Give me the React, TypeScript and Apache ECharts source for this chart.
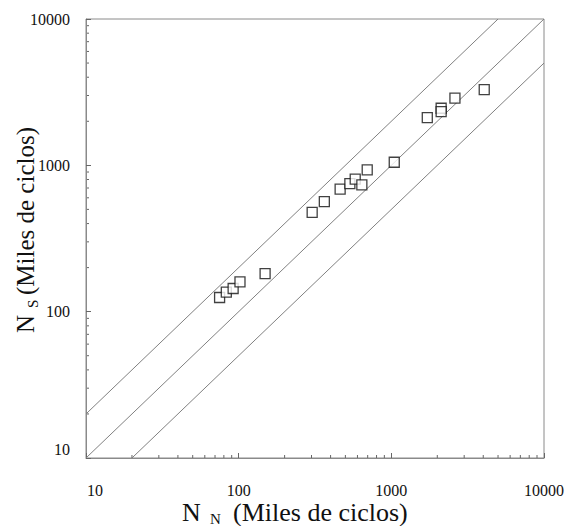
import React, { useEffect, useRef } from "react";
import * as echarts from "echarts";

// N_N (thousands of cycles) and N_S (thousands of cycles) for each specimen
const N_N = [75, 83, 92, 102, 149, 303, 364, 462, 535, 580, 641, 695, 1045, 1720, 2120, 2120, 2610, 4060];
const N_S = [125, 136, 144, 160, 182, 477, 565, 687, 750, 804, 735, 931, 1050, 2120, 2455, 2330, 2880, 3290];

// reference lines: N_S = 2 N_N, N_S = N_N, N_S = N_N / 2
const UPPER_LINE = [[10, 20], [5000, 10000]];
const EQUAL_LINE = [[10, 10], [10000, 10000]];
const LOWER_LINE = [[20, 10], [10000, 5000]];

const AXIS_MIN = 10;
const AXIS_MAX = 10000;
const DECADES = [10, 100, 1000];
const MINOR_STEPS = [2, 3, 4, 5, 6, 7, 8, 9];

const FONT = "Liberation Serif";

export default function App() {
  const ref = useRef<HTMLDivElement>(null);

  useEffect(() => {
    if (!ref.current) return;
    const chart = echarts.init(ref.current, null, { renderer: "svg" });
    const lineStyle = { color: "#808080", width: 1 };
    const labelStyle = { fontFamily: FONT, fontSize: 16, color: "#111" };
    const option: any = {
      animation: false,
      backgroundColor: "#fff",
      grid: {
        left: 86,
        top: 19,
        width: 458,
        height: 439,
        show: true,
        borderColor: "#8a8a8a",
        borderWidth: 1,
        backgroundColor: "transparent",
      },
      xAxis: {
        type: "log",
        logBase: 10,
        min: AXIS_MIN,
        max: AXIS_MAX,
        axisLine: { show: true, lineStyle: { color: "#8a8a8a", width: 1 } },
        axisTick: { show: true, inside: true, length: 5, lineStyle: { color: "#666" } },
        splitLine: { show: false },
        axisLabel: {
          margin: 24,
          fontFamily: FONT,
          fontSize: 16,
          formatter: (v: number) => {
            const r = Math.round(v);
            return r === AXIS_MIN ? "{lo|" + r + "}" : "{n|" + r + "}";
          },
          rich: {
            n: { ...labelStyle },
            lo: { ...labelStyle, padding: [0, 0, 0, 18] },
          },
        },
      },
      yAxis: {
        type: "log",
        logBase: 10,
        min: AXIS_MIN,
        max: AXIS_MAX,
        axisLine: { show: true, lineStyle: { color: "#8a8a8a", width: 1 } },
        axisTick: { show: true, inside: true, length: 5, lineStyle: { color: "#666" } },
        splitLine: { show: false },
        axisLabel: {
          margin: 16,
          fontFamily: FONT,
          fontSize: 16,
          formatter: (v: number) => {
            const r = Math.round(v);
            return r === AXIS_MIN ? "{lo|" + r + "}" : "{n|" + r + "}";
          },
          rich: {
            n: { ...labelStyle },
            lo: { ...labelStyle, padding: [0, 0, 18, 0] },
          },
        },
      },
      series: [
        { type: "line", data: UPPER_LINE, symbol: "none", lineStyle, silent: true },
        { type: "line", data: EQUAL_LINE, symbol: "none", lineStyle, silent: true },
        { type: "line", data: LOWER_LINE, symbol: "none", lineStyle, silent: true },
        {
          type: "scatter",
          data: N_N.map((x, i) => [x, N_S[i]]),
          symbol: "rect",
          symbolSize: 10,
          itemStyle: { color: "#fff", borderColor: "#111", borderWidth: 1.3 },
          z: 5,
        },
      ],
    };
    chart.setOption(option);

    const x0 = chart.convertToPixel({ xAxisIndex: 0 }, AXIS_MIN) as number;
    const y0 = chart.convertToPixel({ yAxisIndex: 0 }, AXIS_MIN) as number;
    const ticks: any[] = [];
    DECADES.forEach((d) => {
      MINOR_STEPS.forEach((k) => {
        const v = d * k;
        const px = chart.convertToPixel({ xAxisIndex: 0 }, v) as number;
        const py = chart.convertToPixel({ yAxisIndex: 0 }, v) as number;
        ticks.push({
          type: "line",
          shape: { x1: px, y1: y0, x2: px, y2: y0 - 3 },
          style: { stroke: "#666", lineWidth: 1 },
          silent: true,
        });
        ticks.push({
          type: "line",
          shape: { x1: x0, y1: py, x2: x0 + 3, y2: py },
          style: { stroke: "#666", lineWidth: 1 },
          silent: true,
        });
      });
    });

    const bigX = "26px " + FONT;
    const big = "25px " + FONT;
    const small = "15px " + FONT;
    const titles = [
      {
        type: "group",
        x: 182,
        y: 512,
        children: [
          { type: "text", x: 0, y: 0, style: { text: "N", font: bigX, fill: "#111", align: "left", verticalAlign: "middle" } },
          { type: "text", x: 28, y: 7, style: { text: "N", font: small, fill: "#111", align: "left", verticalAlign: "middle" } },
          { type: "text", x: 51, y: 0, style: { text: "(Miles de ciclos)", font: bigX, fill: "#111", align: "left", verticalAlign: "middle" } },
        ],
      },
      {
        type: "group",
        x: 25,
        y: 333,
        rotation: Math.PI / 2,
        children: [
          { type: "text", x: 0, y: 0, style: { text: "N", font: big, fill: "#111", align: "left", verticalAlign: "middle" } },
          { type: "text", x: 25, y: 8, style: { text: "S", font: small, fill: "#111", align: "left", verticalAlign: "middle" } },
          { type: "text", x: 38, y: 0, style: { text: "(Miles de ciclos)", font: big, fill: "#111", align: "left", verticalAlign: "middle" } },
        ],
      },
    ];

    chart.setOption({ graphic: [...ticks, ...titles] });

    return () => chart.dispose();
  }, []);

  return (
    <div
      ref={ref}
      style={{ position: "absolute", left: 0, top: 0, width: 574, height: 526, background: "#fff" }}
    />
  );
}
